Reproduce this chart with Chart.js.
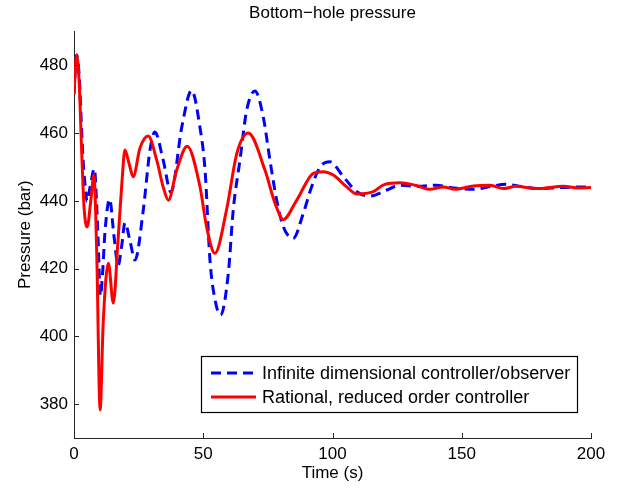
<!DOCTYPE html>
<html>
<head>
<meta charset="utf-8">
<script src="https://cdn.jsdelivr.net/npm/chart.js@4"></script>
<style>
  body { margin: 0; background: #fff; }
  canvas { display: block; }
</style>
</head>
<body>
<canvas id="bhp_chart" width="628" height="488"></canvas>
<script>
// Time (s) and bottom-hole pressure (bar)
const tInf = [0, 1, 2, 3, 3.6, 4.5, 5, 6.2, 7.9, 8.7, 9.4, 10.2, 11, 12, 13.8, 15.4, 17.1, 18.5, 19.7, 21.7, 23.6, 26.8, 29.4, 31.3, 34.5, 37.5, 41.7, 45.5, 48.7, 50.7, 52.6, 54.5, 56.7, 59.7, 61.6, 64.2, 66.8, 70, 73.2, 75.8, 78.4, 81, 84.8, 88.7, 91.9, 95.2, 99, 104.2, 109.4, 114.5, 121, 126, 133, 140, 147, 154.5, 161, 167, 173, 180, 188, 195.7, 200];
const pInf = [471.5, 483, 477, 460, 451, 443, 439.8, 444, 449.5, 440, 427, 412, 418, 431, 440.5, 430, 421, 427, 433.5, 428, 422.5, 437.3, 455, 460.3, 452, 442.5, 461.8, 472.6, 461.8, 449, 422.5, 411, 406.3, 418.6, 437.3, 452, 466.7, 472.4, 464.8, 452, 440.2, 432.3, 428.9, 436.3, 444.1, 450, 451.5, 447.1, 442.7, 441.4, 443.2, 444.6, 444.3, 444.6, 443.8, 443.4, 444.2, 444.9, 444.2, 443.6, 443.9, 444.1, 444];

const tRat = [0, 1, 2, 3, 3.9, 5.1, 6.5, 7.7, 8.8, 10.1, 11.3, 13.3, 15.2, 17, 18.5, 19.7, 21.3, 22.9, 25.5, 28.7, 32, 34.5, 36.5, 39.7, 43.8, 48.7, 51.3, 54.5, 59, 63, 67.4, 73.9, 77.8, 81, 86, 92.6, 96.4, 100.3, 105.5, 109.4, 115.8, 120, 126, 132, 137.7, 142.9, 147.4, 154.5, 161, 166, 171, 179, 189.3, 194.5, 200];
const pRat = [471.5, 483, 475, 454, 438, 432.3, 440, 447.6, 424.5, 378.3, 404, 421.6, 409.8, 428, 445, 455, 451, 447.1, 455.5, 459.1, 452, 444.1, 440.2, 449, 456.1, 444.3, 432.3, 424.5, 437.3, 454, 460, 449, 439.2, 434.5, 440, 448.1, 448.6, 447.6, 444.1, 442, 442.7, 444.8, 445.3, 444.6, 443.4, 444.1, 443.4, 444.4, 444.6, 443.6, 444.3, 443.6, 444.3, 443.8, 443.9];

const xTicks = [0, 50, 100, 150, 200];
const yTicks = [380, 400, 420, 440, 460, 480];
const seriesNames = ['Infinite dimensional controller/observer', 'Rational, reduced order controller'];

const FONT = "'Liberation Sans', Arial, Helvetica, sans-serif";
const AXIS_COLOR = '#262626';

function toPoints(ts, ps) {
  return ts.map((t, i) => ({ x: t, y: ps[i] }));
}

// MATLAB style ticks that point into the plot
const innerTicks = {
  id: 'innerTicks',
  afterDraw(chart) {
    const { ctx, chartArea } = chart;
    const xs = chart.scales.x;
    const ys = chart.scales.y;
    ctx.save();
    ctx.strokeStyle = AXIS_COLOR;
    ctx.lineWidth = 1;
    ctx.beginPath();
    for (const tk of xs.ticks) {
      const px = Math.round(xs.getPixelForValue(tk.value)) + 0.5;
      ctx.moveTo(px, chartArea.bottom);
      ctx.lineTo(px, chartArea.bottom - 5);
    }
    for (const tk of ys.ticks) {
      const py = Math.round(ys.getPixelForValue(tk.value)) + 0.5;
      ctx.moveTo(chartArea.left, py);
      ctx.lineTo(chartArea.left + 5, py);
    }
    ctx.stroke();
    ctx.restore();
  }
};

// boxed legend in the lower right corner of the plot
const boxLegend = {
  id: 'boxLegend',
  afterDraw(chart) {
    const { ctx, chartArea } = chart;
    const w = 376, h = 56;
    const x0 = chartArea.right - 14 - w;
    const y0 = chartArea.bottom - 26 - h;
    ctx.save();
    ctx.fillStyle = '#fff';
    ctx.fillRect(x0, y0, w, h);
    ctx.strokeStyle = '#000';
    ctx.lineWidth = 1.2;
    ctx.strokeRect(x0 + 0.5, y0 + 0.5, w, h);
    ctx.font = '18px ' + FONT;
    ctx.textBaseline = 'middle';
    ctx.fillStyle = '#000';
    chart.data.datasets.forEach((ds, i) => {
      const y = y0 + 17 + i * 24;
      ctx.strokeStyle = ds.borderColor;
      ctx.lineWidth = ds.borderWidth;
      ctx.setLineDash(ds.borderDash || []);
      ctx.beginPath();
      ctx.moveTo(x0 + 10, y);
      ctx.lineTo(x0 + 55, y);
      ctx.stroke();
      ctx.setLineDash([]);
      ctx.fillText(ds.label, x0 + 61, y + 1);
    });
    ctx.restore();
  }
};

const ctx = document.getElementById('bhp_chart').getContext('2d');
new Chart(ctx, {
  type: 'line',
  data: {
    datasets: [
      {
        label: seriesNames[0],
        data: toPoints(tInf, pInf),
        borderColor: '#0000ff',
        borderWidth: 3,
        borderDash: [10, 6],
        pointRadius: 0,
        cubicInterpolationMode: 'monotone',
        order: 1
      },
      {
        label: seriesNames[1],
        data: toPoints(tRat, pRat),
        borderColor: '#ff0000',
        borderWidth: 3,
        pointRadius: 0,
        cubicInterpolationMode: 'monotone',
        order: 0
      }
    ]
  },
  options: {
    responsive: false,
    animation: false,
    layout: { padding: { left: 0, right: 37, top: 0, bottom: 0 } },
    plugins: {
      legend: { display: false },
      tooltip: { enabled: false },
      title: {
        display: true,
        text: 'Bottom\u2212hole pressure',
        fullSize: false,
        color: '#000',
        font: { family: FONT, size: 17, weight: 'normal' },
        padding: { top: 3, bottom: 8 }
      }
    },
    scales: {
      x: {
        type: 'linear',
        min: 0,
        max: 200,
        afterBuildTicks: s => { s.ticks = xTicks.map(v => ({ value: v })); },
        afterFit: s => { s.height = 50; },
        grid: { display: false, drawTicks: false },
        border: { display: true, color: AXIS_COLOR, width: 1 },
        ticks: { color: '#000', font: { family: FONT, size: 17 }, padding: 6, maxRotation: 0 },
        title: { display: true, text: 'Time (s)', color: '#000', font: { family: FONT, size: 17 }, padding: { top: 0, bottom: 4 } }
      },
      y: {
        min: 370,
        max: 490,
        afterBuildTicks: s => { s.ticks = yTicks.map(v => ({ value: v })); },
        afterFit: s => { s.width = 74; },
        grid: { display: false, drawTicks: false },
        border: { display: true, color: AXIS_COLOR, width: 1 },
        ticks: { color: '#000', font: { family: FONT, size: 17 }, padding: 6 },
        title: { display: true, text: 'Pressure (bar)', color: '#000', font: { family: FONT, size: 17 }, padding: { top: 15, bottom: 0 } }
      }
    }
  },
  plugins: [innerTicks, boxLegend]
});
</script>
</body>
</html>
